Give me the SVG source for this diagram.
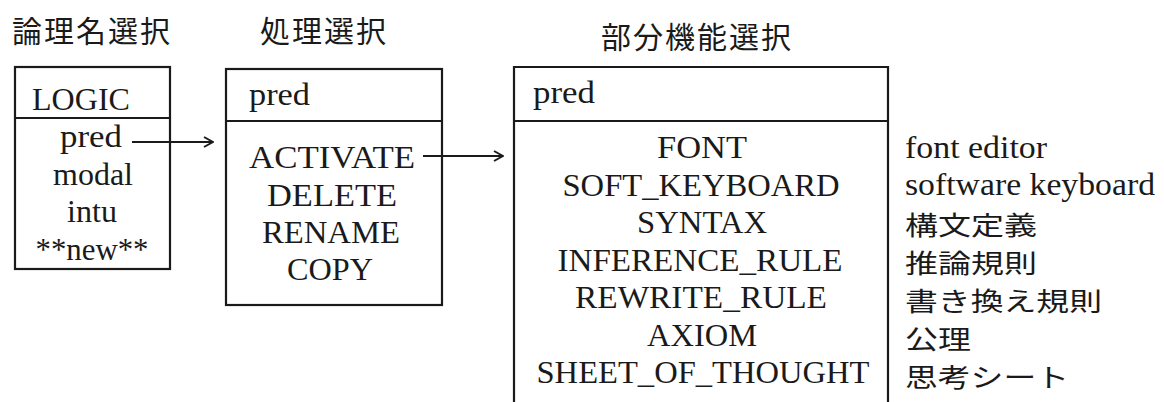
<svg xmlns="http://www.w3.org/2000/svg" width="1164" height="402" viewBox="0 0 1164 402">
<style>
.box{fill:none;stroke:#1a1a1a;stroke-width:2.2}
.t{font-family:"Liberation Serif","Noto Sans CJK JP",serif;font-size:32px;fill:#1a1a1a}
.c{text-anchor:middle}
.jp{font-family:"Noto Sans CJK JP","Noto Sans CJK SC",sans-serif;font-size:26px;fill:#1a1a1a}
.ttl{font-family:"Noto Sans CJK JP","Noto Sans CJK SC",sans-serif;font-size:30px;fill:#1a1a1a;letter-spacing:2px}
.lbl{font-family:"Liberation Serif",serif;font-size:31px;fill:#1a1a1a}
.conn{stroke:#1a1a1a;stroke-width:2;fill:none}
</style>
<defs>
<marker id="ah" viewBox="0 0 12 12" refX="11" refY="6" markerWidth="12" markerHeight="12" markerUnits="userSpaceOnUse" orient="auto">
<path d="M2,1 L11,6 L2,11" fill="none" stroke="#1a1a1a" stroke-width="2"/>
</marker>
</defs>
<rect width="1164" height="402" fill="#fff"/>
<g id="titles">
<text class="ttl" x="12" y="42">論理名選択</text>
<text class="ttl" x="260" y="42">処理選択</text>
<text class="ttl" x="601" y="48">部分機能選択</text>
</g>
<g id="node-logic">
<rect class="box" x="15" y="67" width="155" height="202"/>
<line class="box" x1="15" y1="118" x2="170" y2="118"/>
<text class="t" x="32" y="110" textLength="98" lengthAdjust="spacingAndGlyphs">LOGIC</text>
<text class="t c" x="91" y="147" textLength="62" lengthAdjust="spacingAndGlyphs">pred</text>
<text class="t c" x="93" y="185" textLength="80" lengthAdjust="spacingAndGlyphs">modal</text>
<text class="t c" x="92" y="222" textLength="50" lengthAdjust="spacingAndGlyphs">intu</text>
<text class="t c" x="92" y="260" textLength="113" lengthAdjust="spacingAndGlyphs">**new**</text>
</g>
<g id="node-process">
<rect class="box" x="226" y="69" width="216" height="236"/>
<line class="box" x1="226" y1="121" x2="442" y2="121"/>
<text class="t" x="249" y="105" textLength="61" lengthAdjust="spacingAndGlyphs">pred</text>
<text class="t c" x="332" y="168" textLength="166" lengthAdjust="spacingAndGlyphs">ACTIVATE</text>
<text class="t c" x="332" y="206" textLength="130" lengthAdjust="spacingAndGlyphs">DELETE</text>
<text class="t c" x="331" y="243" textLength="138" lengthAdjust="spacingAndGlyphs">RENAME</text>
<text class="t c" x="330" y="280" textLength="86" lengthAdjust="spacingAndGlyphs">COPY</text>
</g>
<g id="node-sub">
<path class="box" d="M514,404 V67 H888 V404"/>
<line class="box" x1="514" y1="121" x2="888" y2="121"/>
<text class="t" x="533" y="103" textLength="62" lengthAdjust="spacingAndGlyphs">pred</text>
<text class="t c" x="702" y="158" textLength="90" lengthAdjust="spacingAndGlyphs">FONT</text>
<text class="t c" x="701" y="196" textLength="277" lengthAdjust="spacingAndGlyphs">SOFT_KEYBOARD</text>
<text class="t c" x="702" y="233" textLength="130" lengthAdjust="spacingAndGlyphs">SYNTAX</text>
<text class="t c" x="700" y="271" textLength="285" lengthAdjust="spacingAndGlyphs">INFERENCE_RULE</text>
<text class="t c" x="701" y="308" textLength="252" lengthAdjust="spacingAndGlyphs">REWRITE_RULE</text>
<text class="t c" x="702" y="346" textLength="110" lengthAdjust="spacingAndGlyphs">AXIOM</text>
<text class="t c" x="703" y="383" textLength="333" lengthAdjust="spacingAndGlyphs">SHEET_OF_THOUGHT</text>
</g>
<g id="labels">
<text class="lbl" x="905" y="158" textLength="142" lengthAdjust="spacingAndGlyphs">font editor</text>
<text class="lbl" x="905" y="195" textLength="250" lengthAdjust="spacingAndGlyphs">software keyboard</text>
<text class="jp" x="905" y="235" textLength="132" lengthAdjust="spacingAndGlyphs">構文定義</text>
<text class="jp" x="905" y="273" textLength="132" lengthAdjust="spacingAndGlyphs">推論規則</text>
<text class="jp" x="905" y="311" textLength="197" lengthAdjust="spacingAndGlyphs">書き換え規則</text>
<text class="jp" x="905" y="349" textLength="66" lengthAdjust="spacingAndGlyphs">公理</text>
<text class="jp" x="905" y="387" textLength="164" lengthAdjust="spacingAndGlyphs">思考シート</text>
</g>
<g id="connectors">
<line class="conn" x1="132" y1="142" x2="213" y2="142" marker-end="url(#ah)"/>
<line class="conn" x1="423" y1="156" x2="503" y2="156" marker-end="url(#ah)"/>
</g>
</svg>
